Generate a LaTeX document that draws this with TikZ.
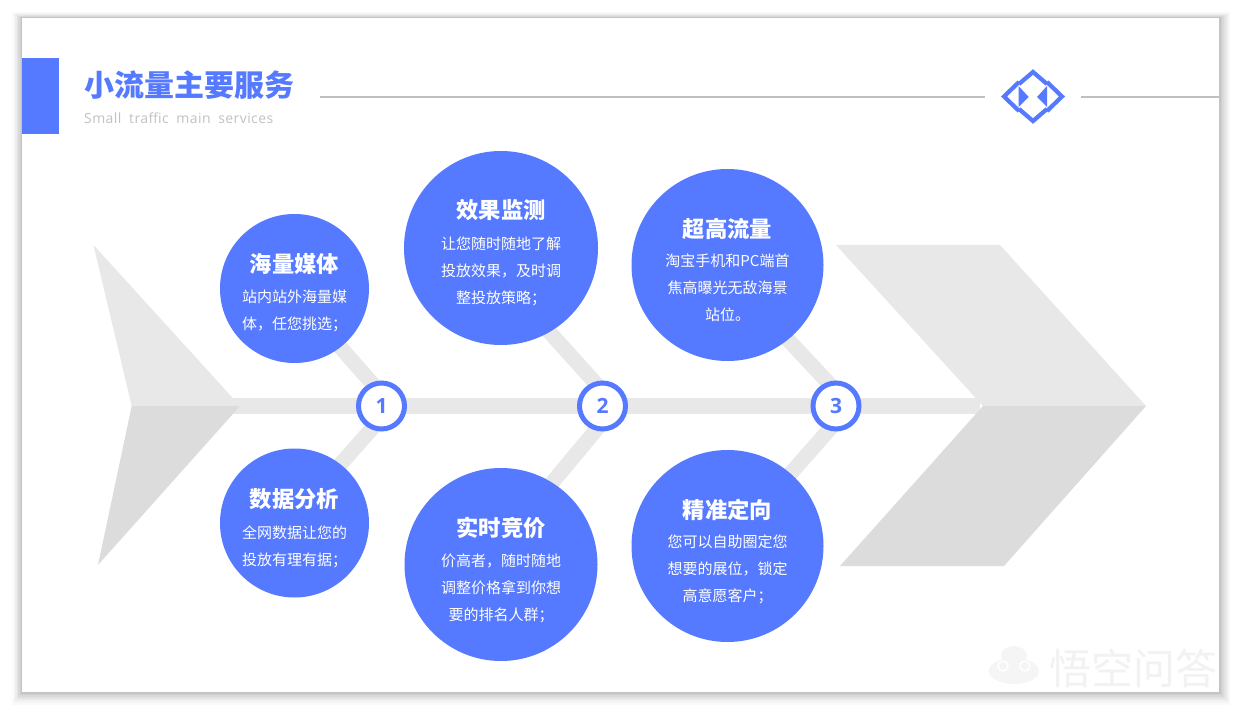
\documentclass[tikz,border=0pt]{standalone}
\usepackage{fontspec}
\usepackage{xcolor}
\usepackage{tikz}
\usetikzlibrary{backgrounds}

\newfontfamily\cjk{Noto Sans CJK SC}
\newfontfamily\latinlight{Open Sans}[LetterSpace=3,WordSpace=1.9]
\newfontfamily\latinbold{Open Sans}
\definecolor{fishblue}{HTML}{5579FF}
\definecolor{bonelight}{HTML}{E8E8E8}
\definecolor{bonedark}{HTML}{DCDCDC}

\begin{document}
\begin{tikzpicture}[
        x=1pt, y=-1pt,
        bubble/.style={circle, fill=fishblue, inner sep=0pt},
        hub/.style={circle, draw=fishblue, line width=5pt, fill=white, inner sep=0pt, minimum size=46pt,
          text=fishblue, font=\latinbold\bfseries\fontsize{21}{21}\selectfont},
        heading/.style={text=white, inner sep=0pt, font=\cjk\bfseries\fontsize{22.3}{22}\selectfont},
        blurb/.style={text=white, inner sep=0pt, align=center, font=\cjk\fontsize{15}{27}\selectfont},
        rib/.style={draw=bonelight, line width=15pt, shorten <=-10pt},
        rule/.style={draw=black!25, line width=2.5pt},
        shade/.style={fill=black!#1}
      ]

      \useasboundingbox (0,0) rectangle (1240,711);

      % the page and its shadow
      \begin{scope}[on background layer]
        \fill[white] (0,0) rectangle (1240,711);
        \fill[shade=2] (12,12) rectangle (1230,705);
        \fill[shade=4] (13.5,13) rectangle (1229,703);
        \fill[shade=7] (15,14) rectangle (1227.5,701);
        \fill[shade=11] (16.5,15) rectangle (1226,699);
        \fill[shade=15] (18,16) rectangle (1224,697);
        \fill[shade=19] (19.5,17) rectangle (1222,695);
        \fill[shade=23] (20.5,17.5) rectangle (1220.5,693.5);
        \fill[white] (21.5,18) rectangle (1219,692);
      \end{scope}

      % header
      \fill[fishblue] (21.5,58.5) rectangle (59,134);
      \node[anchor=west, inner sep=0pt, text=fishblue, font=\cjk\bfseries\fontsize{30}{30}\selectfont] (title) at (84,85) {小流量主要服务};
      \node[anchor=west, inner sep=0pt, text=black!24, font=\latinlight\fontsize{14}{14}\selectfont] (subtitle) at (84,118) {Small traffic main services};
      \coordinate (ruleA) at (320,97);
      \coordinate (ruleB) at (985,97);
      \coordinate (ruleC) at (1081,97);
      \coordinate (ruleD) at (1219,97);
      \draw[rule] (ruleA) -- (ruleB);
      \draw[rule] (ruleC) -- (ruleD);

      % diamond mark
      \draw[fishblue, line width=4.2pt] (1019,82) -- (1004,96.5) -- (1019,111);
      \draw[fishblue, line width=4.2pt] (1047,82) -- (1062,96.5) -- (1047,111);
      \draw[fishblue, line width=4.2pt] (1019,84) -- (1033,72) -- (1047,84);
      \draw[fishblue, line width=4.2pt] (1019,109) -- (1033,121) -- (1047,109);
      \fill[fishblue] (1018.5,86) -- (1028.7,97) -- (1018.5,107) -- cycle;
      \fill[fishblue] (1047,86) -- (1037,97) -- (1047,107) -- cycle;

      % spine, then tail and head of the fish
      \coordinate (tailtip) at (232,406);
      \coordinate (headnotch) at (980,406);
      \draw[draw=bonelight, line width=16pt] (tailtip) -- (headnotch);
      \fill[bonelight] (93.5,245) -- (240,406) -- (131.7,406) -- cycle;
      \fill[bonedark] (131.7,406) -- (240,406) -- (98,565) -- cycle;
      \fill[bonelight] (836,245) -- (1000,245) -- (1146,406) -- (983,406) -- cycle;
      \fill[bonedark] (983,406) -- (1146,406) -- (1004,566) -- (840,566) -- cycle;

      % bubbles
      \node[bubble, minimum size=149pt] (media) at (294.5,288.5) {};
      \node[bubble, minimum size=149pt] (analysis) at (294.5,523) {};
      \node[bubble, minimum size=194pt] (monitor) at (501,248) {};
      \node[bubble, minimum size=193pt] (bidding) at (501,564.5) {};
      \node[bubble, minimum size=192pt] (traffic) at (727.5,265) {};
      \node[bubble, minimum size=192pt] (targeting) at (727.5,546) {};

      \node[heading] (mediahead) at (294.5,264.5) {海量媒体};
      \node[blurb, anchor=north] (mediatext) at (294.5,290) {站内站外海量媒\\体，任您挑选；};
      \node[heading] (analysishead) at (294.5,499.5) {数据分析};
      \node[blurb, anchor=north] (analysistext) at (294.5,526) {全网数据让您的\\投放有理有据；};
      \node[heading] (monitorhead) at (501,210.5) {效果监测};
      \node[blurb, anchor=north] (monitortext) at (501,237) {让您随时随地了解\\投放效果，及时调\\整投放策略；};
      \node[heading] (biddinghead) at (501,527.5) {实时竞价};
      \node[blurb, anchor=north] (biddingtext) at (501,554) {价高者，随时随地\\调整价格拿到你想\\要的排名人群；};
      \node[heading] (traffichead) at (727.5,228.5) {超高流量};
      \node[blurb, anchor=north] (traffictext) at (727.5,254) {淘宝手机和PC端首\\焦高曝光无敌海景\\站位。};
      \node[heading] (targetinghead) at (727.5,509.5) {精准定向};
      \node[blurb, anchor=north] (targetingtext) at (727.5,535) {您可以自助圈定您\\想要的展位，锁定\\高意愿客户；};

      % numbered hubs
      \node[hub] (hubA) at (381.5,406) {1};
      \node[hub] (hubB) at (602.5,406) {2};
      \node[hub] (hubC) at (836,406) {3};

      % ribs go under the bubbles and hubs
      \coordinate (jointA) at (392,406);
      \coordinate (jointB) at (616,406);
      \coordinate (jointC) at (850,406);
      \begin{scope}[on background layer]
        \draw[rib] (media.-52) -- (jointA);
        \draw[rib] (analysis.52) -- (jointA);
        \draw[rib] (monitor.-60) -- (jointB);
        \draw[rib] (bidding.58) -- (jointB);
        \draw[rib] (traffic.-51) -- (jointC);
        \draw[rib] (targeting.49) -- (jointC);
      \end{scope}

      % watermark
      \fill[black!4] (1014,671) ellipse (25pt and 13pt);
      \fill[black!4] (1014,656) ellipse (13pt and 10pt);
      \draw[white, line width=1.5pt] (1003,666) circle (5pt);
      \draw[white, line width=1.5pt] (1025,666) circle (5pt);
      \node[anchor=west, inner sep=0pt, text=black!5, font=\cjk\fontsize{42}{42}\selectfont] (mark) at (1049,668) {悟空问答};

    \end{tikzpicture}
\end{document}
